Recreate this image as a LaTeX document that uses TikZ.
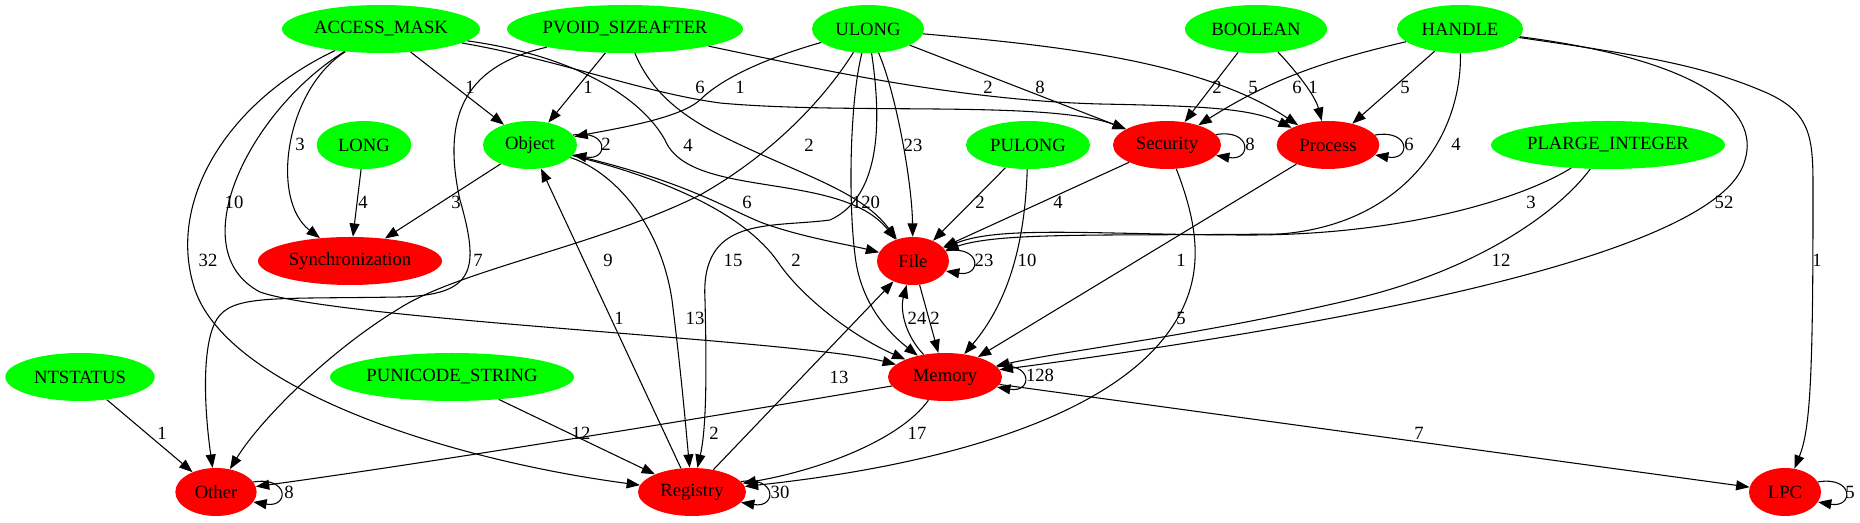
\documentclass[tikz,border=0pt]{standalone}
\usepackage{fontspec}
\setmainfont{Liberation Serif}
\usetikzlibrary{arrows.meta,shapes.geometric}
\tikzset{
  src/.style={ellipse, fill=green, inner sep=0pt, minimum height=36pt},
  dst/.style={ellipse, fill=red, inner sep=0pt, minimum height=36pt},
  link/.style={->, line width=0.8pt},
  lbl/.style={inner sep=0pt}
}
\begin{document}
\begin{tikzpicture}[x=0.75pt, y=-0.75pt, >={Triangle[length=10pt,width=7.5pt]}, font=\rmfamily\fontsize{14}{16}\selectfont]
\useasboundingbox (0,0) rectangle (1860,523);
\node[src, minimum width=148.5pt] (accmask) at (381,29) {ACCESS\_MASK};
\node[src, minimum width=177pt] (pvoid) at (625,29) {PVOID\_SIZEAFTER};
\node[src, minimum width=84pt] (ulong) at (868,29) {ULONG};
\node[src, minimum width=106.5pt] (boolean) at (1256,29) {BOOLEAN};
\node[src, minimum width=94.5pt] (handle) at (1460,29) {HANDLE};
\node[src, minimum width=71pt] (long) at (364,145) {LONG};
\node[src, minimum width=70.5pt] (object) at (530,145) {Object};
\node[src, minimum width=93pt] (pulong) at (1028,145) {PULONG};
\node[dst, minimum width=81pt] (security) at (1167,145) {Security};
\node[dst, minimum width=77pt] (process) at (1328,145) {Process};
\node[src, minimum width=175.5pt] (plarge) at (1608,145) {PLARGE\_INTEGER};
\node[dst, minimum width=138pt] (sync) at (350,261) {Synchronization};
\node[dst, minimum width=54pt] (file) at (913,261) {File};
\node[src, minimum width=112pt] (ntstatus) at (80,377) {NTSTATUS};
\node[src, minimum width=183pt] (punicode) at (452,377) {PUNICODE\_STRING};
\node[dst, minimum width=85.5pt] (memory) at (945,377) {Memory};
\node[dst, minimum width=61pt] (other) at (216,492) {Other};
\node[dst, minimum width=81pt] (registry) at (692,492) {Registry};
\node[dst, minimum width=54pt] (lpc) at (1785,492) {LPC};

\draw[link] (accmask) -- (object);
\draw[link] (accmask) .. controls (285,90) and (270,200) .. (sync);
\draw[link] (accmask) .. controls (250,110) and (180,250) .. (260,292) .. controls (340,320) and (800,340) .. (memory);
\draw[link] (accmask) .. controls (230,100) and (165,200) .. (195,290) .. controls (230,390) and (450,460) .. (registry);
\draw[link] (accmask) .. controls (570,55) and (640,95) .. (665,140) .. controls (690,200) and (840,170) .. (file);
\draw[link] (accmask) .. controls (560,60) and (640,92) .. (720,103) .. controls (850,115) and (1050,100) .. (security);
\draw[link] (pvoid) -- (object);
\draw[link] (pvoid) .. controls (470,65) and (440,110) .. (460,200) .. controls (480,270) and (475,295) .. (400,297) .. controls (280,299) and (238,295) .. (220,315) .. controls (202,335) and (203,400) .. (other);
\draw[link] (pvoid) .. controls (650,90) and (680,115) .. (720,135) .. controls (800,175) and (860,190) .. (file);
\draw[link] (pvoid) .. controls (800,65) and (950,100) .. (1100,104) .. controls (1200,106) and (1250,108) .. (process);
\draw[link] (ulong) .. controls (760,60) and (720,80) .. (700,100) .. controls (680,118) and (620,128) .. (object);
\draw[link] (ulong) .. controls (830,90) and (780,150) .. (700,195) .. controls (600,245) and (460,270) .. (400,308) .. controls (330,350) and (260,420) .. (other);
\draw[link] (ulong) .. controls (850,100) and (848,200) .. (855,255) .. controls (860,300) and (885,330) .. (memory);
\draw[link] (ulong) .. controls (880,110) and (885,195) .. (830,220) .. controls (770,228) and (700,215) .. (705,300) .. controls (707,380) and (706,430) .. (registry);
\draw[link] (ulong) .. controls (895,90) and (912,180) .. (file);
\draw[link] (ulong) -- (security);
\draw[link] (ulong) .. controls (1050,45) and (1200,60) .. (process);
\draw[link] (boolean) -- (security);
\draw[link] (boolean) .. controls (1295,70) and (1315,95) .. (process);
\draw[link] (handle) .. controls (1320,62) and (1270,80) .. (security);
\draw[link] (handle) -- (process);
\draw[link] (handle) .. controls (1462,140) and (1400,225) .. (1280,234) .. controls (1100,236) and (1000,232) .. (file);
\draw[link] (handle) .. controls (1700,60) and (1760,110) .. (1745,160) .. controls (1720,260) and (1300,330) .. (memory);
\draw[link] (handle) .. controls (1640,55) and (1700,65) .. (1760,90) .. controls (1815,112) and (1813,140) .. (1813,200) .. controls (1813,380) and (1810,430) .. (lpc);
\draw[link] (long) -- (sync);
\draw[link] (object) -- (sync);
\draw[link] (object) .. controls (680,180) and (720,205) .. (760,222) .. controls (800,237) and (850,245) .. (file);
\draw[link] (object) .. controls (670,180) and (745,215) .. (778,262) .. controls (800,295) and (850,335) .. (memory);
\draw[link] (object) .. controls (610,170) and (660,220) .. (672,300) .. controls (682,380) and (686,430) .. (registry);
\draw[link] (pulong) -- (file);
\draw[link] (pulong) .. controls (1025,240) and (1010,300) .. (memory);
\draw[link] (security) -- (file);
\draw[link] (security) .. controls (1200,230) and (1205,280) .. (1170,330) .. controls (1100,430) and (900,470) .. (registry);
\draw[link] (process) -- (memory);
\draw[link] (plarge) .. controls (1520,200) and (1400,235) .. (1250,235) .. controls (1100,235) and (1000,225) .. (file);
\draw[link] (plarge) .. controls (1560,210) and (1480,270) .. (1350,300) .. controls (1200,335) and (1070,350) .. (memory);
\draw[link] (file) -- (memory);
\draw[link] (memory) .. controls (905,335) and (900,310) .. (file);
\draw[link] (memory) .. controls (750,410) and (450,460) .. (other);
\draw[link] (memory) .. controls (900,440) and (820,470) .. (registry);
\draw[link] (memory) -- (lpc);
\draw[link] (ntstatus) -- (other);
\draw[link] (punicode) -- (registry);
\draw[link] (registry) -- (object);
\draw[link] (registry) -- (file);
\foreach \n/\a in {object/13, security/12, process/12, file/17, memory/11, registry/12, other/15, lpc/17}
  \draw[link] (\n.\a) .. controls +(36,-6) and +(36,6) .. (\n.-\a);

\foreach \txt/\x/\y [count=\i] in {1/470/87, 3/300/144, 10/234/202, 32/208/260, 4/688/145, 6/700/87,
  1/588/87, 7/478/260, 2/809/145, 2/988/87, 1/740/87, 9/608/260, 120/866/202, 15/733/260, 23/913/145,
  8/1040/87, 5/1253/87, 2/1217/87, 1/1313/87, 6/1297/87, 5/1405/87, 4/1456/144, 52/1724/202, 1/1817/260,
  4/363/202, 2/606/144, 3/456/202, 6/747/202, 2/796/260, 13/695/318, 2/980/202, 10/1027/260,
  8/1250/144, 4/1058/202, 5/1181/318, 6/1409/144, 1/1181/260, 3/1531/202, 12/1501/260,
  23/984/260, 2/935/318, 24/917/318, 1/162/433, 12/581/433, 128/1040/375, 2/714/433, 17/917/433,
  7/1419/433, 30/780/492, 1/619/318, 13/839/377, 8/289/492, 5/1850/492}
  \node[lbl] (w\i) at (\x,\y) {\txt};
\end{tikzpicture}
\end{document}
